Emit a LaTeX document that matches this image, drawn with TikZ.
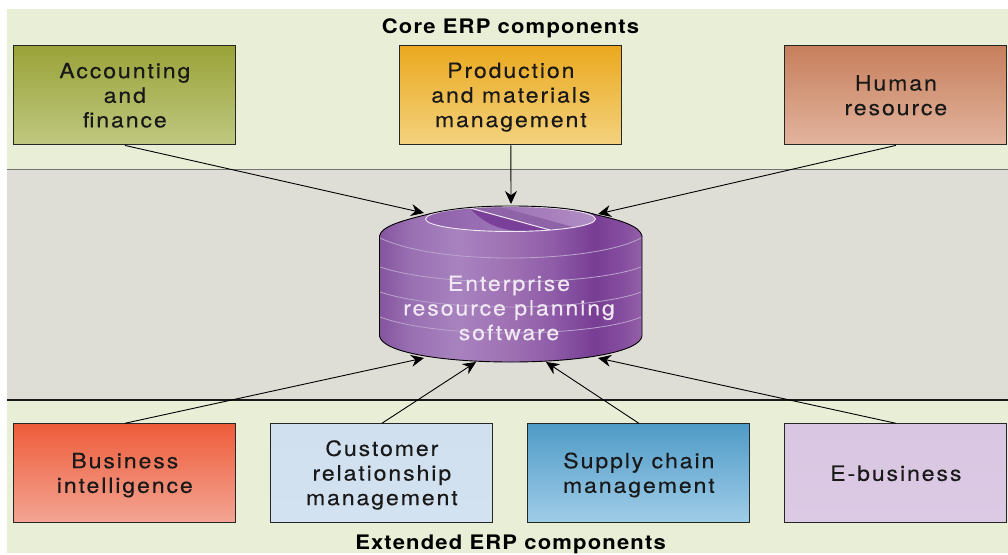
\documentclass[tikz,border=0pt]{standalone}
\usepackage{fontspec}
\usetikzlibrary{arrows.meta}
\setmainfont{TeX Gyre Heros}
\newfontfamily\lab[LetterSpace=9,FakeStretch=1.1,FakeBold=0.25]{TeX Gyre Heros}
\newfontfamily\labh[LetterSpace=5.8,FakeStretch=1.1]{TeX Gyre Heros Bold}
\newcommand\st{\rule[-0.19em]{0pt}{1.09em}}
\definecolor{bgc}{HTML}{E8EFD6}
\definecolor{band}{HTML}{DFDED6}
\definecolor{acctop}{HTML}{9AA338}\definecolor{accbot}{HTML}{BFC880}
\definecolor{protop}{HTML}{EBA91F}\definecolor{probot}{HTML}{F3D27E}
\definecolor{hrtop}{HTML}{C67F5C}\definecolor{hrbot}{HTML}{E3B49E}
\definecolor{bitop}{HTML}{EE5C3A}\definecolor{bibot}{HTML}{F3A594}
\definecolor{crmtop}{HTML}{D0E0EF}\definecolor{crmbot}{HTML}{D3E2F0}
\definecolor{scmtop}{HTML}{4F9BC7}\definecolor{scmbot}{HTML}{A0CDE8}
\definecolor{ebtop}{HTML}{D9C6E2}\definecolor{ebbot}{HTML}{DCCAE5}
\definecolor{ringc}{HTML}{BBA4CB}
\definecolor{wedge}{HTML}{7A3F98}
\definecolor{stripe}{HTML}{8F63A8}
\definecolor{plate}{HTML}{F0E8F2}
\pgfdeclarehorizontalshading{cyl}{100bp}{
 rgb(0bp)=(0.52,0.33,0.62);
 rgb(25bp)=(0.52,0.33,0.62);
 rgb(31bp)=(0.60,0.44,0.70);
 rgb(40bp)=(0.66,0.51,0.75);
 rgb(50bp)=(0.62,0.44,0.70);
 rgb(58bp)=(0.56,0.36,0.66);
 rgb(66bp)=(0.47,0.24,0.58);
 rgb(71bp)=(0.52,0.30,0.62);
 rgb(75bp)=(0.58,0.38,0.66);
 rgb(100bp)=(0.58,0.38,0.66)}
\pgfdeclarehorizontalshading{cyltop}{100bp}{
 rgb(0bp)=(0.56,0.38,0.67);
 rgb(25bp)=(0.56,0.38,0.67);
 rgb(50bp)=(0.62,0.46,0.72);
 rgb(62bp)=(0.66,0.50,0.74);
 rgb(75bp)=(0.69,0.56,0.77);
 rgb(100bp)=(0.69,0.56,0.77)}
\tikzset{
  x=1pt,y=-1pt,
  box/.style 2 args={draw=black!85,line width=1.1pt,minimum width=222pt,minimum height=99pt,
    inner sep=0pt,anchor=north west,top color=#1,bottom color=#2,align=center,
    font=\lab\fontsize{21}{24.6}\selectfont,text=black!90},
  heading/.style={font=\labh\fontsize{20}{24}\selectfont,text=black,inner sep=0pt},
  link/.style={draw=black,line width=0.9pt,-{Stealth[length=13pt,width=12pt]}},
  ring/.style={draw=ringc,line width=0.8pt},
}
\begin{document}
\begin{tikzpicture}
\useasboundingbox (0,0) rectangle (1008,554);
\fill[white] (0,0) rectangle (1008,554);
\fill[bgc] (7,9) rectangle (1008,553);
\fill[band] (7,169) rectangle (1008,400);
\draw[black!55,line width=0.9pt] (7,169) -- (1008,169);
\draw[black!90,line width=1.2pt] (7,400) -- (1008,400);
\node[heading] (core) at (510.5,27) {\st Core ERP components};
\node[heading] (ext) at (510.5,543) {\st Extended ERP components};
\node[box={acctop}{accbot}] (acc) at (13.3,45.3) {\st Accounting\\and\\\st finance};
\node[box={protop}{probot}] (pro) at (399.3,45.3) {\st Production\\and materials\\\st management};
\node[box={hrtop}{hrbot}] (hr) at (784.3,45.3) {\st Human\\\st resource};
\node[box={bitop}{bibot}] (bi) at (13.3,423.3) {\st Business\\\st intelligence};
\node[box={crmtop}{crmbot}] (crm) at (270.3,423.3) {\st Customer\\relationship\\\st management};
\node[box={scmtop}{scmbot}] (scm) at (527.3,423.3) {\st Supply chain\\\st management};
\node[box={ebtop}{ebbot}] (eb) at (784.3,423.3) {\st E-business};
% cylinder
\path[shading=cyl] (379.5,236) .. controls (381,226) and (405,220) .. (425,215)
  .. controls (450,208) and (480,206) .. (510,206)
  .. controls (545,206) and (575,208) .. (597,215)
  .. controls (620,220) and (640,226) .. (642,236)
  -- (642,336) .. controls (640,352) and (580,362) .. (511,362)
  .. controls (440,362) and (382,352) .. (379.5,336) -- cycle;
\draw[ring] (380,238) .. controls (410,252) and (460,258) .. (510,258) .. controls (560,258) and (615,252) .. (641,238);
\draw[ring] (380,267) .. controls (410,277) and (460,282) .. (510,282) .. controls (560,282) and (615,277) .. (641,267);
\draw[ring] (380,292) .. controls (410,302) and (460,307) .. (510,307) .. controls (560,307) and (615,302) .. (641,292);
\draw[ring] (380,317) .. controls (410,328) and (460,333) .. (510,333) .. controls (560,333) and (615,328) .. (641,317);
% top plate
\path[shading=cyltop] (510.5,219) ellipse [x radius=85,y radius=12.5];
\fill[wedge] (470,208) .. controls (482,222) and (498,230) .. (520,231) -- (550,230) -- cycle;
\fill[stripe] (470,208) -- (550,230) -- (577,228) -- (500,207) -- cycle;
\draw[plate,line width=0.9pt] (510.5,219) ellipse [x radius=85,y radius=12.5];
\draw[plate,line width=1pt] (470,208) -- (550,230);
% outline
\draw[black,line width=0.9pt] (379.5,236) .. controls (381,226) and (405,220) .. (425,215)
  .. controls (450,208) and (480,206) .. (510,206)
  .. controls (545,206) and (575,208) .. (597,215)
  .. controls (620,220) and (640,226) .. (642,236)
  -- (642,336) .. controls (640,352) and (580,362) .. (511,362)
  .. controls (440,362) and (382,352) .. (379.5,336) -- cycle;
\node[font=\lab\fontsize{21}{24.6}\selectfont,text=plate,align=center,inner sep=0pt] (erp) at (509,308) {\st Enterprise\\resource planning\\\st software};
% connector ends
\coordinate (c1) at (424,213);
\coordinate (c2) at (511,204);
\coordinate (c3) at (598,214);
\coordinate (c4) at (424,358);
\coordinate (c5) at (476,362);
\coordinate (c6) at (546,362);
\coordinate (c7) at (598,358);
\draw[link] (acc.south) -- (c1);
\draw[link] (pro.south) -- (c2);
\draw[link] (hr.south) -- (c3);
\draw[link] (bi.north) -- (c4);
\draw[link] (crm.north) -- (c5);
\draw[link] (scm.north) -- (c6);
\draw[link] (eb.north) -- (c7);
\end{tikzpicture}
\end{document}
